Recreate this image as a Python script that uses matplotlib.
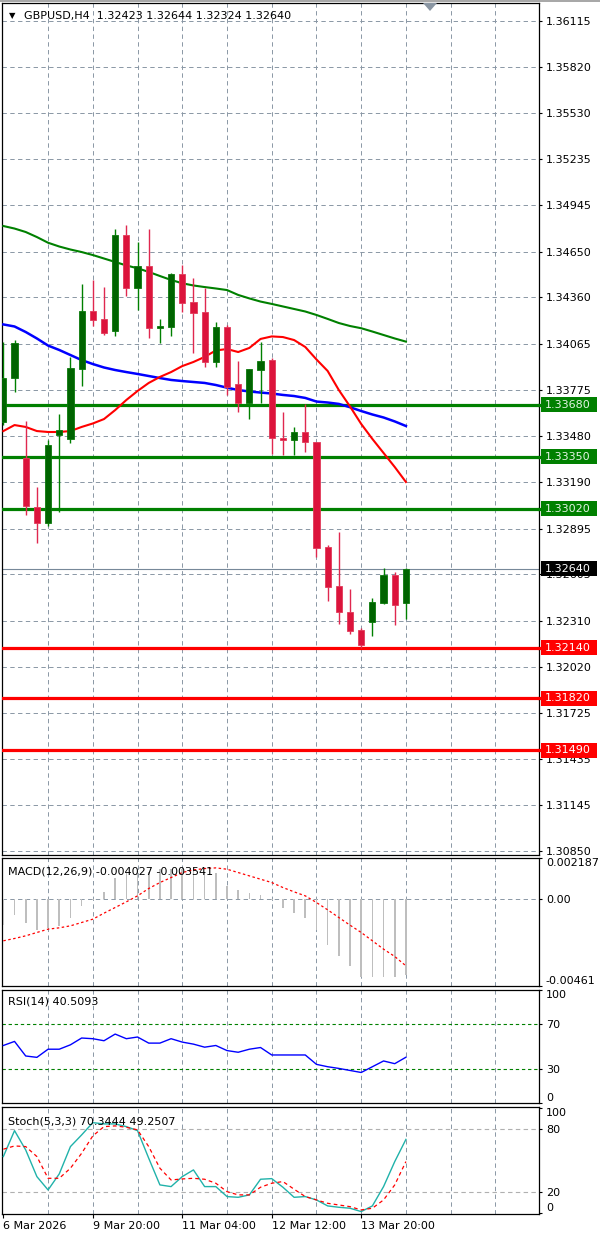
import matplotlib
matplotlib.use('Agg')
import matplotlib.pyplot as plt
from matplotlib.patches import Rectangle, Polygon
from matplotlib.transforms import blended_transform_factory
import numpy as np

# ---------------- data ----------------
symbol = "GBPUSD,H4"
open_ = [1.33572, 1.33847, 1.33340, 1.33034, 1.32928, 1.33488, 1.33461, 1.33906, 1.34276, 1.34224,
         1.34149, 1.34756, 1.34422, 1.34560, 1.34166, 1.34175, 1.34507, 1.34329, 1.34266, 1.33951,
         1.34171, 1.33809, 1.33689, 1.33900, 1.33964, 1.33467, 1.33456, 1.33505, 1.33442, 1.32780,
         1.32530, 1.32368, 1.32251, 1.32304, 1.32421, 1.32600, 1.32423]
high = [1.34080, 1.34090, 1.33579, 1.33160, 1.33456, 1.33621, 1.33984, 1.34445, 1.34471, 1.34424,
        1.34792, 1.34820, 1.34714, 1.34792, 1.34224, 1.34517, 1.34566, 1.34482, 1.34418, 1.34203,
        1.34186, 1.33957, 1.33907, 1.34080, 1.33976, 1.33636, 1.33541, 1.33683, 1.33444, 1.32790,
        1.32875, 1.32510, 1.32267, 1.32453, 1.32643, 1.32619, 1.32644]
low = [1.33551, 1.33763, 1.32981, 1.32805, 1.32911, 1.33002, 1.33439, 1.33801, 1.34179, 1.34120,
       1.34118, 1.34369, 1.34281, 1.34101, 1.34073, 1.34118, 1.34270, 1.34006, 1.33917, 1.33921,
       1.33742, 1.33632, 1.33589, 1.33691, 1.33367, 1.33361, 1.33361, 1.33378, 1.32716, 1.32435,
       1.32288, 1.32224, 1.32137, 1.32213, 1.32416, 1.32283, 1.32324]
close = [1.33847, 1.34073, 1.33038, 1.32932, 1.33425, 1.33520, 1.33911, 1.34276, 1.34217, 1.34137,
         1.34756, 1.34422, 1.34560, 1.34165, 1.34179, 1.34507, 1.34325, 1.34263, 1.33951, 1.34171,
         1.33794, 1.33689, 1.33905, 1.33957, 1.33467, 1.33458, 1.33505, 1.33445, 1.32773, 1.32522,
         1.32364, 1.32247, 1.32156, 1.32431, 1.32600, 1.32410, 1.32640]

ma_slow = [1.34813, 1.34797, 1.34775, 1.34743, 1.34707, 1.34683, 1.34664, 1.34648, 1.34629, 1.34607,
           1.34585, 1.34563, 1.34545, 1.34522, 1.34496, 1.34471, 1.34450, 1.34436, 1.34426, 1.34417,
           1.34407, 1.34376, 1.34354, 1.34334, 1.34319, 1.34303, 1.34287, 1.34271, 1.34249, 1.34224,
           1.34198, 1.34179, 1.34165, 1.34144, 1.34122, 1.34100, 1.34080]
ma_mid = [1.34189, 1.34176, 1.34141, 1.34100, 1.34055, 1.34027, 1.33995, 1.33963, 1.33938, 1.33916,
          1.33900, 1.33887, 1.33875, 1.33862, 1.33849, 1.33837, 1.33830, 1.33824, 1.33818, 1.33805,
          1.33788, 1.33773, 1.33764, 1.33757, 1.33751, 1.33742, 1.33735, 1.33723, 1.33700, 1.33694,
          1.33685, 1.33664, 1.33640, 1.33618, 1.33599, 1.33574, 1.33545]
ma_fast = [1.33513, 1.33551, 1.33539, 1.33513, 1.33507, 1.33507, 1.33513, 1.33539, 1.33561, 1.33589,
           1.33646, 1.33710, 1.33767, 1.33818, 1.33856, 1.33887, 1.33925, 1.33951, 1.33983, 1.34024,
           1.34033, 1.34014, 1.34040, 1.34097, 1.34113, 1.34109, 1.34090, 1.34046, 1.33967, 1.33894,
           1.33773, 1.33669, 1.33558, 1.33463, 1.33374, 1.33285, 1.33190]

resistance_levels = [1.33680, 1.33350, 1.33020]
support_levels = [1.32140, 1.31820, 1.31490]
price_ticks = [1.36115, 1.35820, 1.35530, 1.35235, 1.34945, 1.34650, 1.34360, 1.34065, 1.33775,
               1.33480, 1.33190, 1.32895, 1.32605, 1.32310, 1.32020, 1.31725, 1.31435, 1.31145, 1.30850]

macd_hist = [-0.001379, -0.000831, -0.001291, -0.001645, -0.001556, -0.001415, -0.001008, -0.000354,
             -0.000020, 0.000389, 0.001149, 0.001415, 0.001503, 0.001450, 0.001592, 0.001627, 0.001592,
             0.001592, 0.001450, 0.001379, 0.000707, 0.000495, 0.000354, 0.000212, -0.000020, -0.000442,
             -0.000743, -0.000973, -0.001645, -0.002423, -0.003042, -0.003572, -0.004156, -0.004156,
             -0.004156, -0.004156, -0.004027]
macd_signal = [-0.002210, -0.002087, -0.001945, -0.001768, -0.001592, -0.001521, -0.001415, -0.001238,
               -0.001061, -0.000743, -0.000442, -0.000141, 0.000177, 0.000566, 0.000884, 0.001149,
               0.001415, 0.001556, 0.001627, 0.001662, 0.001592, 0.001415, 0.001238, 0.001061, 0.000884,
               0.000619, 0.000389, 0.000177, -0.000177, -0.000566, -0.000973, -0.001379, -0.001768,
               -0.002210, -0.002653, -0.003042, -0.003541]
macd_ticks = [-0.00461, 0.0, 0.002187]
macd_tick_labels = ['-0.00461', '0.00', '0.002187']

rsi = [50.9, 54.5, 41.6, 40.4, 47.6, 47.6, 51.5, 57.5, 56.9, 55.1, 61.0, 56.9, 58.4, 53.0, 53.0, 56.9,
       53.9, 52.1, 49.4, 50.9, 46.4, 44.9, 47.6, 49.1, 42.5, 42.5, 42.5, 42.5, 34.2, 32.1, 30.6, 28.8,
       27.0, 32.1, 37.2, 34.8, 40.5093]
rsi_levels = [70, 30]
rsi_ticks = [0, 30, 70, 100]

stoch_k = [54.0, 78.7, 60.3, 34.9, 22.2, 37.5, 63.5, 74.6, 86.3, 85.1, 85.1, 82.5, 78.7, 52.4, 27.0,
           25.4, 34.9, 41.3, 25.4, 25.4, 15.9, 15.2, 17.5, 32.4, 33.0, 24.8, 15.2, 15.9, 12.7, 7.0, 5.7,
           4.8, 1.6, 7.0, 25.4, 49.2, 70.3444]
stoch_d = [61.0, 64.1, 63.5, 54.0, 33.3, 33.3, 42.9, 57.1, 73.7, 82.5, 83.2, 81.9, 79.4, 63.5, 42.9,
           31.7, 32.7, 33.3, 32.4, 28.6, 20.6, 17.5, 17.5, 24.8, 28.6, 30.2, 22.9, 15.9, 12.7, 9.5, 7.9,
           6.3, 3.2, 4.8, 12.7, 27.0, 49.2507]
stoch_levels = [80, 20]
stoch_ticks = [0, 20, 80, 100]

date_tick_bars = [0, 8, 16, 24, 32]
date_labels = ['6 Mar 2026', '9 Mar 20:00', '11 Mar 04:00', '12 Mar 12:00', '13 Mar 20:00']

# ---------------- figure ----------------
W, H = 600, 1238
fig = plt.figure(figsize=(W / 100, H / 100), dpi=100)
fig.patch.set_facecolor('white')
plt.rcParams['font.family'] = ['DejaVu Sans']


def add_panel(top, bottom, left=2, right=539):
    return fig.add_axes([left / W, 1 - bottom / H, (right - left) / W, (bottom - top) / H])


ax = add_panel(3, 855)
ax_macd = add_panel(858, 986)
ax_rsi = add_panel(990, 1103)
ax_st = add_panel(1107, 1214)

x = np.arange(len(close))
XMIN, XMAX = -0.12, 47.9
GRID = '#8A97A5'
DASH = (0, (4.5, 3.5))


def style_panel(a):
    a.set_xlim(XMIN, XMAX)
    a.set_facecolor('white')
    for s in a.spines.values():
        s.set_color('black')
        s.set_linewidth(0.9)
    a.yaxis.tick_right()
    a.tick_params(axis='y', direction='out', length=2.5, width=0.8, pad=2.5,
                  labelsize=8, colors='black')
    a.tick_params(axis='x', bottom=False, labelbottom=False)
    for k in range(4, 48, 4):
        a.axvline(k, color=GRID, lw=0.7, ls=DASH, zorder=1)


for a in (ax, ax_macd, ax_rsi, ax_st):
    style_panel(a)

# ---------------- main price panel ----------------
YMIN, YMAX = 1.30825, 1.36227
ax.set_ylim(YMIN, YMAX)
ax.set_yticks(price_ticks)
ax.set_yticklabels([f'{v:.5f}' for v in price_ticks])
for v in price_ticks:
    ax.axhline(v, color=GRID, lw=0.7, ls=DASH, zorder=1)

dpp = (YMAX - YMIN) / 852.0  # data per pixel
tr = blended_transform_factory(ax.transAxes, ax.transData)


def axis_label(y, text, fc, tc):
    ax.add_patch(Rectangle(((541 - 2) / 537, y - 7.5 * dpp), 56 / 537, 15 * dpp, transform=tr,
                           fc=fc, ec='none', clip_on=False, zorder=10))
    ax.text((545 - 2) / 537, y, text, transform=tr, color=tc, fontsize=8, va='center',
            ha='left', zorder=11, clip_on=False)


# current price line
ax.axhline(close[-1], color='#778899', lw=0.8, zorder=2)

for lv in resistance_levels:
    ax.axhline(lv, color='#008000', lw=2.3, zorder=3)
    ax.plot([1.0, 1.004], [lv, lv], transform=tr, color='#008000', lw=2.3, clip_on=False, zorder=9)
    axis_label(lv, f'{lv:.5f}', '#008000', '#E4F4E4')
for lv in support_levels:
    ax.axhline(lv, color='#FF0000', lw=2.3, zorder=3)
    ax.plot([1.0, 1.004], [lv, lv], transform=tr, color='#FF0000', lw=2.3, clip_on=False, zorder=9)
    axis_label(lv, f'{lv:.5f}', '#FF0000', 'white')
axis_label(close[-1], f'{close[-1]:.5f}', 'black', 'white')

# moving averages
ax.plot(x, ma_slow, color='#008000', lw=1.5, zorder=4)
ax.plot(x, ma_mid, color='#0000FF', lw=1.8, zorder=4)
ax.plot(x, ma_fast, color='#FF0000', lw=1.5, zorder=4)

# candles
o = np.array(open_); c = np.array(close); hi = np.array(high); lo = np.array(low)
bull = c >= o
body_lo = np.minimum(o, c)
body_h = np.maximum(np.abs(c - o), 0.00002)
wick_col = np.where(bull, '#008000', '#E0284F')
ax.vlines(x, lo, hi, colors=list(wick_col), lw=1.0, zorder=5)
ax.bar(x[bull], body_h[bull], bottom=body_lo[bull], width=0.55, color='#006400',
       edgecolor='#0A7A0A', linewidth=0.6, zorder=6)
ax.bar(x[~bull], body_h[~bull], bottom=body_lo[~bull], width=0.55, color='#DC143C',
       edgecolor='#E23A5A', linewidth=0.6, zorder=6)

# ---------------- MACD ----------------
ax_macd.set_ylim(-0.00461, 0.002187)
ax_macd.axhline(0, color=GRID, lw=0.7, ls=DASH, zorder=1)
ax_macd.bar(x, macd_hist, width=0.15, color='#BEBEBE', zorder=3)
ax_macd.plot(x, macd_signal, color='#FF0000', lw=0.9, ls=(0, (2, 2)), zorder=4)
ax_macd.set_yticks(macd_ticks)
ax_macd.set_yticklabels(macd_tick_labels)
labs = ax_macd.get_yticklabels()
labs[0].set_va('bottom')
labs[-1].set_va('top')

# ---------------- RSI ----------------
ax_rsi.set_ylim(0, 100)
for lv in rsi_levels:
    ax_rsi.axhline(lv, color='#008000', lw=0.8, ls=(0, (3, 2.5)), zorder=2)
ax_rsi.plot(x, rsi, color='#0000FF', lw=1.0, zorder=4)
ax_rsi.set_yticks(rsi_ticks)
ax_rsi.set_yticklabels([str(v) for v in rsi_ticks])
labs = ax_rsi.get_yticklabels()
labs[0].set_va('bottom')
labs[-1].set_va('top')

# ---------------- Stochastic ----------------
ax_st.set_ylim(-0.7, 101.2)
for lv in stoch_levels:
    ax_st.axhline(lv, color='#B0B0B0', lw=0.8, ls=(0, (4, 3)), zorder=2)
ax_st.plot(x, stoch_k, color='#20B2AA', lw=1.0, zorder=4)
ax_st.plot(x, stoch_d, color='#FF0000', lw=0.9, ls=(0, (3, 2.5)), zorder=4)
ax_st.set_yticks(stoch_ticks)
ax_st.set_yticklabels([str(v) for v in stoch_ticks])
labs = ax_st.get_yticklabels()
labs[0].set_va('bottom')
labs[-1].set_va('top')

ax_st.set_xticks(date_tick_bars)
ax_st.set_xticklabels(date_labels)
ax_st.tick_params(axis='x', bottom=True, labelbottom=True, direction='out', length=3,
                  width=0.8, pad=2, labelsize=8, colors='black')
for lab in ax_st.get_xticklabels():
    lab.set_ha('left')

# ---------------- texts ----------------
def ftext(px, py, s, **kw):
    fig.text(px / W, 1 - py / H, s, va='center', ha='left', color='black', **kw)


ftext(9, 16, '\u25bc', fontsize=6)
ftext(24, 16, f'{symbol}  {open_[-1]:.5f} {high[-1]:.5f} {low[-1]:.5f} {close[-1]:.5f}', fontsize=8)
ftext(8, 871, f'MACD(12,26,9) {macd_hist[-1]:.6f} {macd_signal[-1]:.6f}', fontsize=8)
ftext(8, 1002, f'RSI(14) {rsi[-1]:.4f}', fontsize=8)
ftext(8, 1121, f'Stoch(5,3,3) {stoch_k[-1]:.4f} {stoch_d[-1]:.4f}', fontsize=8)

# window top strip and chart-shift marker
fig.patches.append(Rectangle((0, 1 - 2 / H), 1, 2 / H, transform=fig.transFigure,
                             fc='#A8A8A8', ec='none'))
tri = [(423 / W, 1 - 3 / H), (437 / W, 1 - 3 / H), (430 / W, 1 - 11 / H)]
fig.patches.append(Polygon(tri, closed=True, transform=fig.transFigure, fc='#8A96A3', ec='none'))

fig.savefig('out.png', dpi=100, facecolor='white')
